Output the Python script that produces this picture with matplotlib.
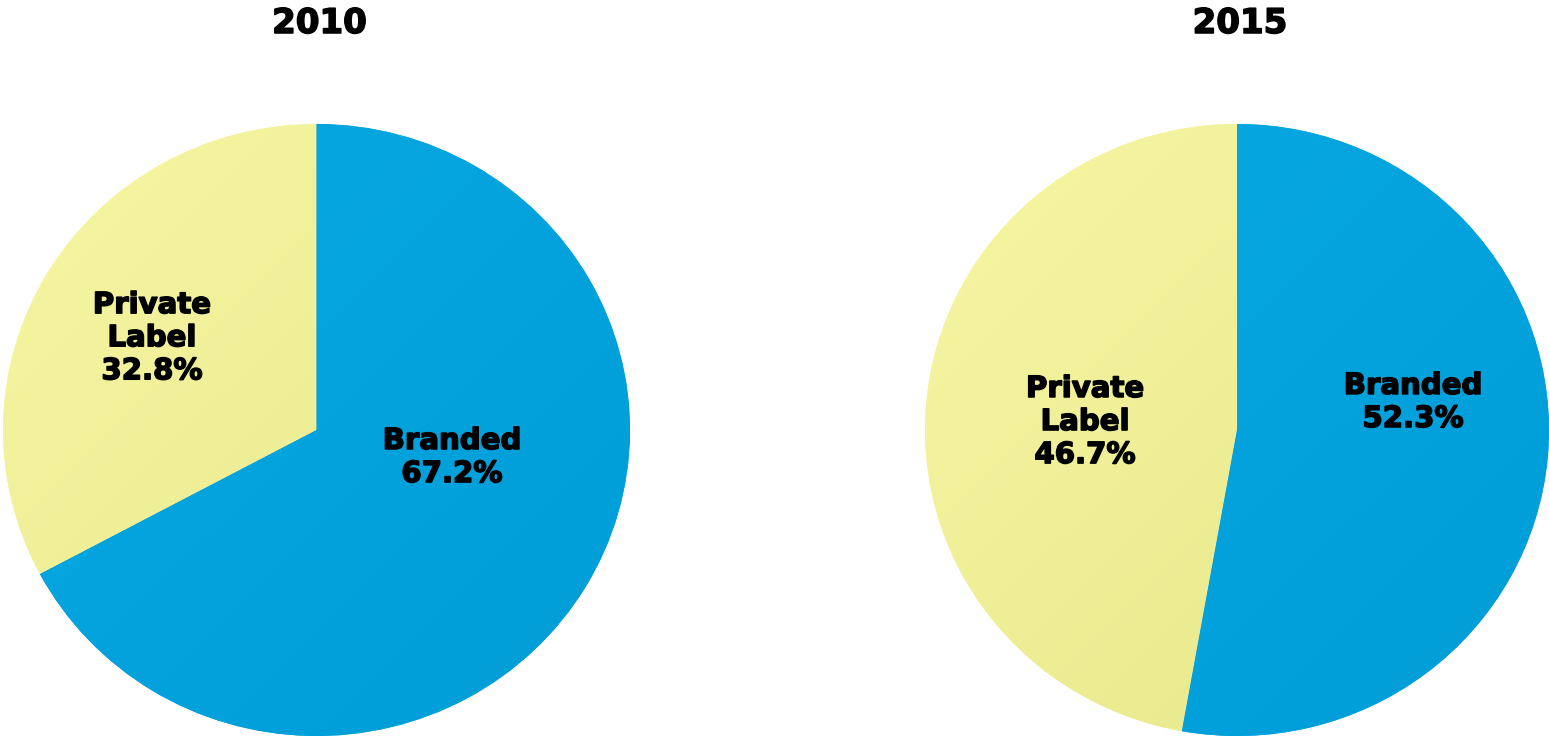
import numpy as np
import matplotlib
matplotlib.use("Agg")
import matplotlib.pyplot as plt
import matplotlib.patheffects as pe
from matplotlib.colors import LinearSegmentedColormap

# market share, private label vs branded
years = ["2010", "2015"]
segments = ["Private\nLabel", "Branded"]
share_2010 = [32.8, 67.2]
share_2015 = [46.7, 52.3]

# light -> dark shading for each segment
shades = {
    "Private\nLabel": ("#F7F7A4", "#E5E588"),
    "Branded": ("#08A9E3", "#009DD7"),
}

W, H = 1549, 739
fig = plt.figure(figsize=(W / 100, H / 100), dpi=100)

# pie boxes in pixels: left, top, width, height
boxes = [(3, 124, 627, 612), (925, 124, 624, 612)]
# label centres in pie units (x, y) for each wedge
label_pos = [[(-0.525, 0.30), (0.432, -0.09)],
             [(-0.487, 0.026), (0.564, 0.09)]]

yy, xx = np.mgrid[1:-1:200j, -1:1:200j]
grad = np.clip((xx - yy) / 2.0 * 0.5 + 0.5, 0, 1)

heavy = [pe.withStroke(linewidth=1.1, foreground="black")]

for k, (year, shares) in enumerate(zip(years, [share_2010, share_2015])):
    l, t, w, h = boxes[k]
    ax = fig.add_axes([l / W, (H - t - h) / H, w / W, h / H])
    wedges, _ = ax.pie(shares, startangle=90, counterclock=True,
                       colors=[shades[s][0] for s in segments],
                       wedgeprops=dict(linewidth=0))
    for wdg, seg in zip(wedges, segments):
        cmap = LinearSegmentedColormap.from_list(seg, shades[seg])
        im = ax.imshow(grad, extent=[-1, 1, -1, 1], cmap=cmap, vmin=0, vmax=1,
                       aspect="auto", zorder=2, interpolation="bilinear")
        im.set_clip_path(wdg)
    ax.set_aspect("auto")
    ax.set_xlim(-1, 1)
    ax.set_ylim(-1, 1)
    ax.axis("off")

    for seg, val, (px, py) in zip(segments, shares, label_pos[k]):
        ax.text(px, py, f"{seg}\n{val:.1f}%", ha="center", va="center",
                fontsize=21, fontweight="bold", color="black",
                linespacing=1.23, zorder=5, path_effects=heavy)

    fig.text((l + w / 2 + 3) / W, 1 - 33 / H, year, ha="center", va="baseline",
             fontsize=24.5, fontweight="bold", path_effects=heavy)

fig.savefig("out.png", dpi=100, facecolor="white")
